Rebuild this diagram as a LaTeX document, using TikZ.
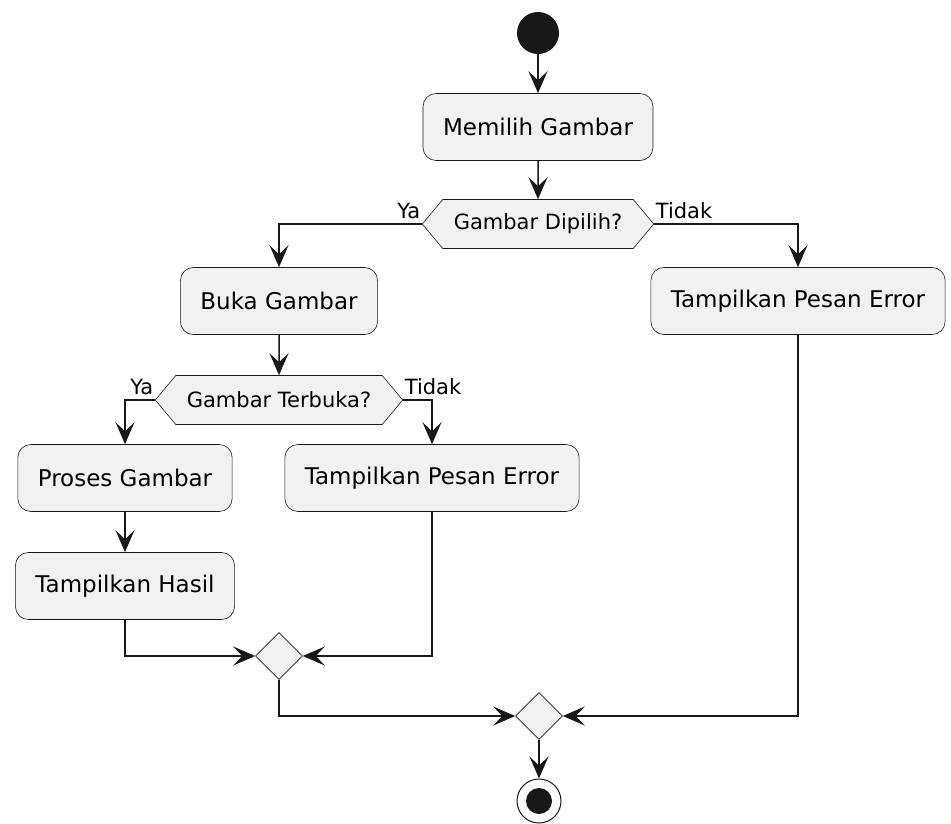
\documentclass[tikz,border=0pt]{standalone}
\usepackage{fontspec}
\setmainfont{DejaVu Sans}
\usetikzlibrary{arrows.meta,shapes.geometric,shapes.symbols}
\definecolor{umlfill}{HTML}{F1F1F1}
\definecolor{umlline}{HTML}{181818}
\tikzset{
    action/.style={rectangle, rounded corners=13pt, draw=umlline, line width=0.6pt, fill=umlfill, minimum height=67pt, inner xsep=20pt, font=\fontsize{23}{27}\selectfont},
    choice/.style={signal, signal to=west and east, signal pointer angle=100, draw=umlline, line width=0.6pt, fill=umlfill, minimum height=49pt, inner xsep=11pt, font=\fontsize{21}{25}\selectfont},
    merge/.style={diamond, draw=umlline, line width=0.6pt, fill=umlfill, minimum size=47pt, inner sep=0pt},
    startdot/.style={circle, fill=umlline, minimum size=42pt, inner sep=0pt},
    stopdot/.style={circle, draw=umlline, line width=1pt, minimum size=44pt, inner sep=0pt, path picture={\fill[umlline] (path picture bounding box.center) circle (13pt);}},
    guard/.style={inner xsep=1.5pt, inner ysep=5pt, font=\fontsize{21}{25}\selectfont},
    flow/.style={draw=umlline, line width=1.5pt, -{Stealth[length=22pt, width=19pt, inset=9pt]}},
    plain/.style={draw=umlline, line width=1.5pt}
}
\begin{document}
\begin{tikzpicture}[x=1pt, y=-1pt]
            \useasboundingbox (0, 0) rectangle (951, 823);
            \node (start) at (538, 33) [startdot] {};
            \node (pick) at (538, 127) [action] {Memilih Gambar};
            \node (q1) at (538, 224) [choice] {Gambar Dipilih?};
            \node (open) at (279, 301) [action] {Buka Gambar};
            \node (err1) at (798, 301) [action] {Tampilkan Pesan Error};
            \node (q2) at (279, 400) [choice] {Gambar Terbuka?};
            \node (proc) at (125, 478) [action] {Proses Gambar};
            \node (err2) at (432, 478) [action] {Tampilkan Pesan Error};
            \node (show) at (125, 586) [action] {Tampilkan Hasil};
            \node (m1) at (279, 656) [merge] {};
            \node (m2) at (539, 716) [merge] {};
            \node (stop) at (539, 801) [stopdot] {};
            \node (yes1) at (q1.west) [guard, anchor=south east] {Ya};
            \node (no1) at (q1.east) [guard, anchor=south west] {Tidak};
            \node (yes2) at (q2.west) [guard, anchor=south east] {Ya};
            \node (no2) at (q2.east) [guard, anchor=south west] {Tidak};
            \draw[flow] (start) -- (pick);
            \draw[flow] (pick) -- (q1);
            \draw[flow] (q1.west) -| (open.north);
            \draw[flow] (q1.east) -| (err1.north);
            \draw[flow] (open) -- (q2);
            \draw[flow] (q2.west) -| (proc.north);
            \draw[flow] (q2.east) -| (err2.north);
            \draw[flow] (proc) -- (show);
            \draw[flow] (show.south) |- (m1.west);
            \draw[flow] (err2.south) |- (m1.east);
            \draw[flow] (m1.south) |- (m2.west);
            \draw[flow] (err1.south) |- (m2.east);
            \draw[flow] (m2) -- (stop);
\end{tikzpicture}
\end{document}
